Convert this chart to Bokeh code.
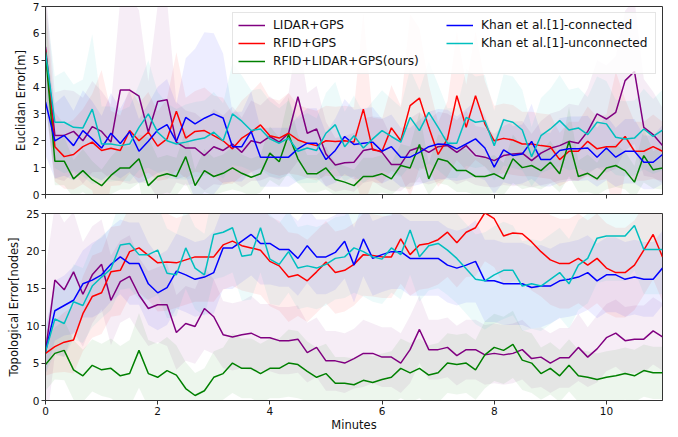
from bokeh.plotting import figure
from bokeh.layouts import column
from bokeh.models import Legend, LegendItem, FixedTicker, Range1d
from bokeh.embed import file_html
from bokeh.resources import INLINE

# time grid: one sample every 10 seconds, 0 .. 11 minutes
minutes = [round(i / 6, 4) for i in range(67)]

names = ["LIDAR+GPS", "RFID+GPS", "RFID+LIDAR+GPS(ours)",
         "Khan et al.[1]-connected", "Khan et al.[1]-unconnected"]
colors = ["#800080", "#ff0000", "#008000", "#0000ff", "#00bfbf"]

x_ticks = [0, 2, 4, 6, 8, 10]
euc_ticks = [0, 1, 2, 3, 4, 5, 6, 7]
topo_ticks = [0, 5, 10, 15, 20, 25]

# ---------------- Euclidean error [m] (means) ----------------
euc_lidar_gps = [5.5, 2.2, 2.2, 2.35, 2.0, 2.53, 2.35, 1.95, 3.89, 3.89,
                 3.66, 2.32, 3.46, 3.53, 1.95, 1.73, 1.73, 1.45, 1.78, 1.64,
                 1.88, 1.57, 2.0, 1.92, 2.16, 1.95, 2.28, 3.64, 2.28, 2.44,
                 1.51, 1.1, 1.18, 1.2, 1.64, 1.7, 1.57, 1.12, 1.12, 1.64,
                 1.76, 1.57, 1.78, 1.82, 1.57, 1.82, 1.45, 1.39, 1.26, 1.45,
                 1.51, 1.54, 1.26, 1.54, 1.72, 1.82, 1.98, 1.91, 2.35, 3.0,
                 2.81, 3.06, 4.24, 4.58, 2.5, 2.23, 1.82]
euc_rfid_gps = [5.4, 1.78, 1.41, 1.49, 1.78, 1.95, 1.64, 1.72, 1.64, 2.38,
                2.0, 2.32, 1.8, 2.07, 3.1, 2.1, 2.35, 2.38, 2.19, 2.0,
                1.7, 2.1, 2.32, 2.59, 2.19, 2.1, 2.28, 2.03, 1.91, 1.82,
                2.0, 1.97, 2.0, 1.95, 3.18, 1.66, 1.61, 2.48, 2.0, 3.31,
                3.59, 2.5, 1.49, 2.07, 3.68, 2.5, 3.68, 2.63, 2.0, 2.09,
                2.03, 1.88, 1.88, 1.82, 1.78, 1.3, 1.61, 1.61, 1.98, 1.7,
                1.78, 1.78, 2.16, 1.61, 1.61, 1.78, 1.61]
euc_ours = [5.3, 1.24, 1.24, 0.58, 0.89, 0.55, 0.33, 0.71, 0.99, 0.99,
            1.33, 0.33, 0.67, 0.77, 0.67, 1.41, 0.33, 0.89, 0.67, 0.79,
            0.99, 0.79, 0.64, 0.77, 1.54, 1.22, 2.23, 1.33, 0.77, 0.77,
            0.99, 0.56, 0.46, 0.33, 0.67, 0.67, 0.77, 0.58, 1.08, 0.99,
            1.86, 0.58, 1.33, 1.24, 0.89, 0.89, 0.67, 0.67, 0.77, 0.58,
            1.33, 1.0, 1.08, 0.89, 1.2, 0.77, 1.98, 0.67, 0.79, 0.58,
            0.99, 1.08, 0.89, 0.46, 1.45, 0.92, 0.99]
euc_khan_conn = [3.45, 2.0, 2.2, 1.82, 2.38, 2.07, 1.73, 2.28, 1.9, 2.34,
                 1.61, 1.98, 2.4, 2.6, 1.97, 2.87, 2.63, 2.84, 3.0, 2.85,
                 1.78, 1.78, 2.35, 1.39, 1.39, 1.39, 1.39, 1.7, 1.91, 1.91,
                 1.3, 1.64, 2.16, 1.86, 1.91, 1.95, 1.61, 1.78, 1.39, 1.39,
                 1.57, 1.78, 1.88, 1.86, 1.7, 1.88, 2.07, 1.73, 1.02, 1.66,
                 1.45, 1.51, 1.98, 1.3, 1.3, 1.64, 1.7, 1.7, 1.73, 1.39,
                 1.73, 1.39, 1.61, 1.61, 1.2, 1.2, 1.49]
euc_khan_unconn = [5.3, 2.69, 2.69, 2.5, 2.48, 3.18, 1.88, 1.88, 1.82, 1.88,
                   2.5, 3.0, 2.32, 2.0, 1.88, 1.95, 2.04, 2.1, 2.32, 2.0,
                   3.0, 2.73, 2.38, 2.44, 2.07, 1.91, 2.1, 1.61, 1.73, 1.64,
                   2.28, 2.6, 1.78, 2.19, 1.73, 2.07, 2.38, 2.16, 1.95, 2.87,
                   2.38, 3.06, 2.5, 1.91, 1.91, 2.87, 2.69, 2.75, 1.82, 2.78,
                   2.69, 2.4, 1.41, 2.19, 2.44, 2.75, 2.4, 2.48, 2.23, 2.69,
                   2.63, 2.13, 2.07, 2.1, 2.44, 2.16, 2.4]

# Euclidean error standard deviations (shaded bands)
euc_lidar_gps_sd = [2.2, 1.6, 1.7, 1.5, 1.6, 1.7, 1.5, 1.4, 3.4, 3.5,
                    3.2, 1.9, 3.6, 3.7, 1.5, 1.4, 1.3, 1.3, 1.4, 1.3,
                    1.4, 1.3, 1.5, 1.4, 1.5, 1.4, 1.5, 2.4, 1.5, 1.6,
                    1.2, 1.0, 1.0, 1.1, 1.2, 1.2, 1.3, 1.0, 1.0, 1.2,
                    1.3, 1.2, 1.3, 1.2, 1.2, 1.3, 1.1, 1.1, 1.0, 1.1,
                    1.2, 1.2, 1.0, 1.2, 1.3, 1.3, 1.4, 1.4, 1.6, 2.0,
                    2.0, 2.1, 2.6, 2.7, 1.8, 1.6, 1.4]
euc_rfid_gps_sd = [2.0, 1.3, 1.2, 1.3, 1.4, 1.8, 3.0, 1.4, 1.3, 1.6,
                   1.4, 1.5, 1.3, 1.5, 2.2, 1.5, 1.5, 1.6, 1.5, 1.6,
                   1.3, 1.4, 1.5, 1.6, 1.4, 1.4, 1.5, 1.3, 1.3, 1.3,
                   1.3, 1.3, 1.3, 1.3, 3.6, 1.2, 1.2, 1.6, 1.3, 3.4,
                   2.6, 1.6, 1.2, 1.4, 2.4, 1.6, 2.4, 1.6, 1.3, 1.3,
                   1.3, 1.2, 1.2, 1.2, 1.2, 1.0, 1.1, 1.1, 1.3, 1.2,
                   1.2, 2.8, 1.4, 1.1, 1.1, 1.2, 1.1]
euc_ours_sd = [1.8, 0.9, 0.9, 0.7, 0.8, 0.7, 0.6, 0.7, 0.8, 0.8,
               0.9, 1.8, 0.7, 0.7, 0.7, 1.0, 0.6, 0.8, 0.7, 0.7,
               0.8, 0.7, 0.7, 0.7, 1.0, 0.9, 1.4, 0.9, 0.7, 0.7,
               0.8, 0.6, 0.6, 0.6, 0.7, 0.7, 0.7, 0.6, 0.8, 0.8,
               1.2, 0.6, 0.9, 0.9, 0.8, 0.8, 0.7, 0.7, 0.7, 0.6,
               0.9, 0.8, 0.8, 0.7, 0.8, 0.7, 1.3, 0.6, 0.7, 0.6,
               0.8, 0.8, 0.7, 0.6, 1.0, 0.7, 0.8]
euc_khan_conn_sd = [2.0, 1.4, 1.5, 1.3, 1.5, 1.4, 1.2, 1.5, 1.3, 1.5,
                    1.2, 1.4, 1.6, 1.7, 1.4, 2.2, 2.8, 3.2, 3.0, 2.4,
                    1.3, 1.3, 1.5, 1.1, 1.1, 1.1, 1.1, 1.2, 1.3, 1.3,
                    1.0, 1.2, 1.4, 1.3, 1.3, 1.3, 1.2, 1.2, 1.1, 1.1,
                    1.2, 1.3, 1.3, 1.3, 1.2, 1.3, 1.4, 1.2, 1.0, 1.2,
                    1.1, 1.1, 1.4, 1.0, 1.0, 1.2, 1.2, 1.2, 1.2, 1.1,
                    1.2, 1.1, 1.2, 1.2, 1.0, 1.0, 1.1]
euc_khan_unconn_sd = [2.0, 1.7, 1.9, 1.6, 1.8, 2.8, 1.4, 1.4, 1.3, 1.4,
                      1.6, 2.0, 1.5, 1.4, 1.3, 1.4, 1.4, 1.4, 1.5, 1.4,
                      1.9, 1.7, 1.5, 1.5, 1.4, 1.3, 1.4, 1.2, 1.3, 1.2,
                      1.5, 1.6, 1.3, 1.5, 1.3, 1.4, 1.5, 1.4, 1.3, 1.8,
                      1.5, 1.9, 1.6, 1.3, 1.3, 1.8, 1.7, 1.7, 1.3, 1.7,
                      1.7, 1.5, 1.1, 1.4, 1.5, 1.7, 1.5, 1.5, 1.4, 1.7,
                      1.6, 1.4, 1.4, 1.4, 1.5, 1.4, 1.5]

# ---------------- Topological error [nodes] (means) ----------------
topo_lidar_gps = [6.5, 16.1, 14.8, 17.2, 14.2, 16.8, 18.2, 13.4, 15.9, 16.6,
                  14.1, 12.3, 12.8, 12.8, 9.1, 10.3, 9.9, 12.3, 11.2, 8.8,
                  8.5, 8.8, 9.0, 8.4, 8.4, 8.0, 8.0, 8.2, 6.4, 7.1,
                  5.3, 5.3, 5.0, 5.6, 6.3, 6.3, 5.8, 5.8, 5.0, 6.8,
                  9.5, 6.8, 6.8, 7.1, 6.0, 6.8, 6.8, 6.1, 6.3, 6.1,
                  6.3, 6.8, 5.6, 5.8, 5.0, 5.7, 5.7, 7.1, 5.8, 6.9,
                  8.4, 9.0, 8.0, 8.2, 8.2, 9.3, 8.5]
topo_rfid_gps = [6.3, 7.2, 7.8, 8.1, 11.6, 13.9, 14.4, 17.2, 17.4, 19.9,
                 20.4, 19.4, 18.4, 18.5, 18.4, 18.8, 19.2, 19.2, 19.2, 20.8,
                 21.3, 20.7, 20.4, 20.1, 18.6, 18.0, 16.5, 16.8, 16.0, 17.2,
                 18.5, 17.1, 17.4, 18.2, 19.5, 19.4, 19.2, 19.2, 21.6, 19.5,
                 20.8, 21.0, 21.5, 22.5, 21.1, 22.5, 23.1, 25.1, 24.3, 22.0,
                 22.4, 22.3, 21.2, 19.9, 18.8, 18.3, 18.3, 19.0, 18.1, 19.0,
                 17.7, 17.1, 17.1, 18.1, 20.1, 22.2, 19.2]
topo_ours = [4.8, 6.3, 6.7, 4.1, 3.3, 4.7, 4.1, 4.3, 3.3, 3.6,
             6.7, 3.6, 3.1, 4.0, 3.4, 1.6, 0.67, 1.3, 3.1, 3.6,
             5.0, 4.3, 4.3, 3.6, 4.3, 4.3, 5.0, 4.8, 3.9, 3.1,
             3.6, 2.3, 2.3, 2.1, 2.7, 2.4, 2.8, 3.1, 4.3, 3.7,
             4.3, 3.4, 3.7, 5.0, 4.8, 5.0, 4.1, 6.1, 7.1, 6.7,
             7.5, 5.4, 5.0, 3.6, 4.3, 3.3, 4.7, 3.3, 3.1, 2.8,
             3.1, 3.3, 3.6, 3.3, 4.0, 3.7, 3.7]
topo_khan_conn = [6.5, 12.0, 12.7, 13.4, 15.6, 16.1, 16.8, 18.2, 19.2, 18.3,
                  18.3, 15.6, 14.4, 15.1, 17.3, 16.8, 16.2, 16.5, 17.1, 20.4,
                  20.4, 21.3, 22.2, 21.0, 21.0, 20.2, 20.2, 19.0, 20.7, 19.2,
                  19.2, 19.8, 21.3, 18.1, 21.6, 19.0, 19.5, 19.9, 19.9, 19.0,
                  19.0, 19.0, 19.0, 18.1, 17.7, 18.1, 18.6, 16.0, 16.0, 15.6,
                  15.6, 15.6, 15.1, 15.3, 15.3, 16.0, 16.2, 16.5, 17.1, 16.0,
                  16.8, 16.8, 16.2, 16.5, 16.2, 16.2, 17.7]
topo_khan_unconn = [6.5, 10.9, 10.3, 13.2, 12.7, 15.3, 16.5, 17.6, 20.8, 21.0,
                    19.5, 19.5, 20.1, 17.0, 16.8, 20.4, 17.7, 16.8, 22.2, 22.5,
                    23.1, 19.3, 19.5, 23.1, 18.9, 18.2, 19.9, 17.7, 18.0, 17.7,
                    18.2, 19.0, 19.2, 20.4, 19.9, 19.2, 18.9, 20.4, 19.5, 22.8,
                    19.2, 20.7, 21.0, 20.1, 19.0, 17.6, 16.2, 16.0, 16.8, 17.4,
                    17.4, 15.3, 15.6, 15.3, 16.2, 17.1, 15.6, 18.1, 19.0, 21.7,
                    22.0, 22.0, 22.0, 23.4, 20.2, 20.2, 20.2]

# Topological error standard deviations (shaded bands)
topo_lidar_gps_sd = [11, 10, 9, 8, 7, 6.5, 6, 6, 5.5, 5.5,
                     5, 5, 5, 5.5, 5, 5, 5, 5.5, 5, 4.5,
                     4.5, 4.5, 5, 4.5, 4.5, 4.5, 4.5, 4.5, 4, 4,
                     4, 4, 4, 4, 4.5, 4, 4, 4, 4, 4.5,
                     4.5, 4, 4, 4, 4, 4, 4, 4, 4, 4,
                     4, 4, 4, 4, 4, 4, 4, 4.5, 4, 4.5,
                     4.5, 4.5, 4.5, 4.5, 4.5, 4.5, 4.5]
topo_rfid_gps_sd = [3, 3.5, 4, 4.5, 5, 5.5, 5.5, 6, 6, 6,
                    6, 6, 6.5, 6.5, 6, 6, 6, 6, 6, 6,
                    6, 6, 6, 6, 6, 6, 6, 5.5, 5.5, 5.5,
                    5.5, 5.5, 5.5, 5.5, 5.5, 5.5, 5.5, 5.5, 6, 5.5,
                    6, 6, 6, 6, 6, 6, 6.5, 6.5, 6.5, 6.5,
                    6.5, 6.5, 6.5, 6, 6, 6, 6, 6, 6, 6,
                    6, 6, 6, 6, 6, 6, 6]
topo_ours_sd = [3.5, 3.5, 4, 4, 3.5, 3.5, 3.5, 4, 4, 4.5,
                5, 4.5, 4.5, 4.5, 4, 3.5, 3, 3, 3.5, 3.5,
                4, 4, 4, 4, 4, 4, 4.5, 4.5, 4, 4,
                4, 3.5, 3.5, 3.5, 3.5, 3.5, 3.5, 3.5, 4, 4,
                4, 4, 4, 4, 4, 4, 4, 4.5, 4.5, 4.5,
                4.5, 4, 4, 3.5, 3.5, 3.5, 3.5, 3.5, 3.5, 3.5,
                3.5, 3.5, 3.5, 3.5, 3.5, 3.5, 3.5]
topo_khan_conn_sd = [3, 4, 4, 4.5, 4.5, 5, 5, 5, 5, 5.5,
                     5.5, 5.5, 5, 5, 5, 5, 5, 5, 5.5, 5.5,
                     5.5, 5.5, 5.5, 5.5, 5.5, 5, 5, 5, 5, 5,
                     5, 5, 5, 5, 5, 5, 5, 5, 5, 5,
                     5, 5, 5, 5, 5, 5, 5.5, 5.5, 5.5, 5.5,
                     5.5, 5.5, 5.5, 5.5, 5, 5, 5, 5, 5, 5,
                     5, 5, 5, 5, 5, 5, 5]
topo_khan_unconn_sd = [3, 4.5, 4.5, 5, 5, 5.5, 5.5, 5.5, 6, 6,
                       6, 6, 6, 6, 5.5, 5.5, 5.5, 5.5, 6, 6,
                       6, 6, 6, 6, 6, 5.5, 5.5, 5.5, 5.5, 5.5,
                       5.5, 5.5, 5.5, 6, 6, 6, 6, 6, 6, 6,
                       6, 6, 6, 6, 6, 6, 6, 6.5, 6.5, 6.5,
                       6, 6, 6, 6, 6, 6, 6, 6, 6, 6,
                       6, 6, 6, 6, 6, 6, 6]

euc_means = [euc_lidar_gps, euc_rfid_gps, euc_ours, euc_khan_conn, euc_khan_unconn]
euc_sds = [euc_lidar_gps_sd, euc_rfid_gps_sd, euc_ours_sd, euc_khan_conn_sd, euc_khan_unconn_sd]
topo_means = [topo_lidar_gps, topo_rfid_gps, topo_ours, topo_khan_conn, topo_khan_unconn]
topo_sds = [topo_lidar_gps_sd, topo_rfid_gps_sd, topo_ours_sd, topo_khan_conn_sd, topo_khan_unconn_sd]

FONT = "DejaVu Sans"


def make_fig(height, b_top, b_bottom, ymax, yticks, ylabel, show_x_labels):
    p = figure(width=672, height=height, x_range=Range1d(0, 11), y_range=Range1d(0, ymax),
               output_backend="svg", toolbar_location=None,
               min_border_left=45, min_border_right=10,
               min_border_top=b_top, min_border_bottom=b_bottom)
    p.grid.visible = False
    p.outline_line_color = "#333333"
    p.outline_line_width = 1
    p.background_fill_color = "white"
    p.border_fill_color = "white"
    for ax in (p.xaxis[0], p.yaxis[0]):
        ax.axis_line_color = "#333333"
        ax.major_tick_line_color = "#333333"
        ax.major_tick_in = 0
        ax.major_tick_out = 4
        ax.minor_tick_line_color = None
        ax.major_label_text_font = FONT
        ax.major_label_text_font_size = "10.5px"
        ax.major_label_text_color = "#111111"
        ax.major_label_standoff = 2
        ax.axis_label_text_font = FONT
        ax.axis_label_text_font_style = "normal"
        ax.axis_label_text_font_size = "11.5px"
        ax.axis_label_text_color = "#111111"
    p.xaxis.ticker = FixedTicker(ticks=x_ticks)
    p.yaxis.ticker = FixedTicker(ticks=yticks)
    p.yaxis.axis_label = ylabel
    p.yaxis.axis_label_standoff = 2
    if show_x_labels:
        p.xaxis.axis_label = "Minutes"
        p.xaxis.axis_label_standoff = 0
    else:
        # shared x axis: tick marks only, no tick labels
        p.xaxis.major_label_text_font_size = "1px"
        p.xaxis.major_label_text_color = None
    return p


def draw(p, means, sds):
    for m, s, c in zip(means, sds, colors):
        lo = [a - b for a, b in zip(m, s)]
        hi = [a + b for a, b in zip(m, s)]
        p.varea(x=minutes, y1=lo, y2=hi, fill_color=c, fill_alpha=0.07)
    renderers = []
    for m, c in zip(means, colors):
        r = p.line(minutes, m, line_color=c, line_width=1.5)
        renderers.append(r)
    return renderers


p1 = make_fig(205, 6, 11, 7, euc_ticks, "Euclidan Error[m]", False)
r1 = draw(p1, euc_means, euc_sds)
legend = Legend(items=[LegendItem(label=n, renderers=[r]) for n, r in zip(names, r1)],
                location="top_right", nrows=3, orientation="vertical")
legend.label_text_font = FONT
legend.label_text_font_size = "12.2px"
legend.label_text_color = "#111111"
legend.glyph_width = 27
legend.glyph_height = 14
legend.label_height = 14
legend.label_width = 169
legend.label_standoff = 8
legend.spacing = 4
legend.padding = 5
legend.margin = 6
legend.border_line_color = "#cccccc"
legend.border_line_width = 1
legend.background_fill_color = "white"
legend.background_fill_alpha = 0.8
p1.add_layout(legend)

p2 = make_fig(229, 8, 34, 25, topo_ticks, "Topological Error[nodes]", True)
draw(p2, topo_means, topo_sds)

layout = column(p1, p2, spacing=0)
open("out.html", "w").write(file_html(layout, INLINE))
